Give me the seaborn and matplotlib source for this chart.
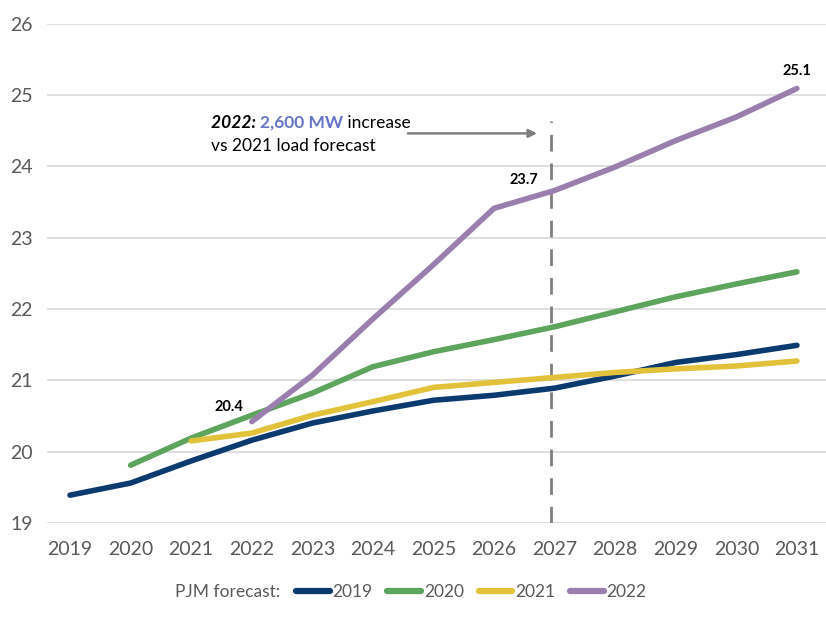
import numpy as np
import pandas as pd
import matplotlib
matplotlib.use("Agg")
import matplotlib.pyplot as plt
import seaborn as sns

# forecast years on the x axis
years = list(range(2019, 2032))

# peak load (GW) by forecast vintage
load_2019 = [19.39, 19.56, 19.87, 20.16, 20.40, 20.57, 20.72, 20.79, 20.89, 21.06, 21.25, 21.36, 21.49]
load_2020 = [np.nan, 19.81, 20.19, 20.51, 20.82, 21.19, 21.40, 21.57, 21.75, 21.96, 22.17, 22.35, 22.52]
load_2021 = [np.nan, np.nan, 20.15, 20.26, 20.51, 20.70, 20.90, 20.97, 21.04, 21.11, 21.16, 21.20, 21.27]
load_2022 = [np.nan, np.nan, np.nan, 20.42, 21.07, 21.86, 22.62, 23.41, 23.66, 23.99, 24.36, 24.69, 25.09]

vintages = ["2019", "2020", "2021", "2022"]
colors = ["#0B3A6E", "#5DA45D", "#E2C23A", "#9A7FAE"]

# long table for seaborn
df = pd.DataFrame({"year": years, "2019": load_2019, "2020": load_2020,
                   "2021": load_2021, "2022": load_2022})
long = df.melt(id_vars="year", var_name="forecast", value_name="load").dropna()

sns.set_theme(style="white")
plt.rcParams["font.family"] = ["Lato", "DejaVu Sans"]

fig = plt.figure(figsize=(8.26, 6.2), dpi=100)
ax = fig.add_axes([47 / 826, 1 - 523 / 620, 1 - 47 / 826, (523 - 23.5) / 620])

sns.lineplot(data=long, x="year", y="load", hue="forecast", hue_order=vintages,
             palette=colors, linewidth=4, ax=ax, legend=True,
             solid_capstyle="round", solid_joinstyle="round")

ax.set_xlim(2018.62, 2031.48)
ax.set_ylim(19, 26)
ax.set_xticks(years)
ax.set_yticks(range(19, 27))
ax.grid(axis="y", color="#D9D9D9", linewidth=1.2)
ax.set_axisbelow(True)
for s in ax.spines.values():
    s.set_visible(False)
ax.tick_params(axis="both", length=0, labelsize=14, labelcolor="#595959")
ax.tick_params(axis="x", pad=13)
ax.tick_params(axis="y", pad=10)
ax.set_xlabel("")
ax.set_ylabel("")

# dashed marker at 2027
ax.plot([2026.94, 2026.94], [19, 24.63], color="#7F7F7F", linewidth=2,
        linestyle=(0, (6, 4.3)), zorder=1)

# point labels
ax.text(2021.63, 20.62, "20.4", fontsize=10.5, fontweight="bold", ha="center", va="center", color="black")
ax.text(2026.5, 23.8, "23.7", fontsize=10.5, fontweight="bold", ha="center", va="center", color="black")
ax.text(2031.0, 25.33, "25.1", fontsize=10.5, fontweight="bold", ha="center", va="center", color="black")

# annotation text + arrow
t1 = fig.text(211 / 826, 1 - 123 / 620, "2022: ", fontsize=12.5, va="center", ha="left",
              fontweight="bold", fontstyle="italic", color="black")
fig.canvas.draw()
r = fig.canvas.get_renderer()
bb = t1.get_window_extent(r)
t2 = fig.text(bb.x1 / 826, 1 - 123 / 620, "2,600 MW", fontsize=12.5, va="center", ha="left",
              fontweight="bold", color="#6674C8")
bb2 = t2.get_window_extent(r)
fig.text(bb2.x1 / 826, 1 - 123 / 620, " increase", fontsize=12.5, va="center", ha="left", color="black")
fig.text(211 / 826, 1 - 146 / 620, "vs 2021 load forecast", fontsize=12.5, va="center", ha="left", color="black")

ax.annotate("", xy=(2026.71, 24.46), xytext=(2024.58, 24.46),
            arrowprops=dict(arrowstyle="-|>", color="#7F7F7F", lw=1.8, mutation_scale=12,
                            shrinkA=0, shrinkB=0))

# legend along the bottom
ax.get_legend().remove()
handles = [plt.Line2D([], [], color=c, linewidth=4.5, solid_capstyle="round") for c in colors]
fig.text(280 / 826, 1 - 592 / 620, "PJM forecast:", fontsize=12.5, color="#595959",
         ha="right", va="center")
fig.legend(handles, vintages, loc="center left", bbox_to_anchor=(296 / 826, 1 - 592 / 620),
           ncol=4, frameon=False, fontsize=12.5, handlelength=1.95, handletextpad=0.15,
           columnspacing=0.85, borderpad=0, borderaxespad=0, labelcolor="#595959")

fig.savefig("out.png", dpi=100)
